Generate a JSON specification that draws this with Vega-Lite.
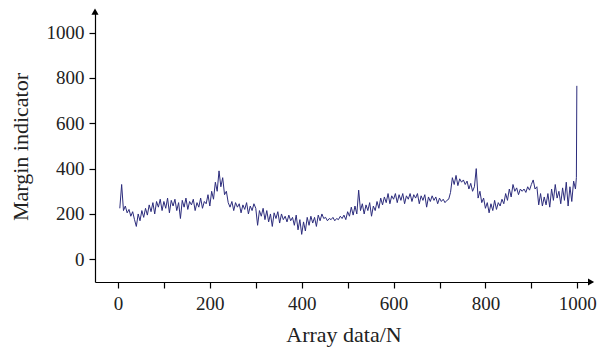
{
  "$schema": "https://vega.github.io/schema/vega-lite/v6.json",
  "width": 497,
  "height": 271,
  "autosize": {"type": "none"},
  "padding": {"left": 95, "top": 11, "right": 7, "bottom": 65},
  "config": {
    "view": {"stroke": null},
    "font": "Liberation Serif",
    "axis": {
      "domainColor": "#000000", "domainWidth": 1.2, "tickColor": "#000000", "tickWidth": 1.2, "tickSize": 6,
      "labelFont": "Liberation Serif", "labelFontSize": 19, "labelColor": "#222222",
      "titleFont": "Liberation Serif", "titleFontSize": 22, "titleFontWeight": "normal", "titleColor": "#222222",
      "grid": false
    }
  },
  "datasets": {
    "series": [
      {"n":4,"v":225},{"n":8,"v":330},{"n":12,"v":215},{"n":16,"v":235},{"n":20,"v":205},{"n":24,"v":220},{"n":28,"v":190},{"n":32,"v":210},{"n":36,"v":175},{"n":40,"v":145},{"n":44,"v":200},{"n":48,"v":170},{"n":52,"v":215},{"n":56,"v":185},{"n":60,"v":225},
      {"n":64,"v":195},{"n":68,"v":240},{"n":72,"v":210},{"n":76,"v":250},{"n":80,"v":200},{"n":84,"v":255},{"n":88,"v":230},{"n":92,"v":265},{"n":96,"v":215},{"n":100,"v":255},{"n":104,"v":225},{"n":108,"v":270},{"n":112,"v":205},{"n":116,"v":260},{"n":120,"v":235},{"n":124,"v":265},{"n":128,"v":215},{"n":132,"v":250},{"n":136,"v":180},{"n":140,"v":260},{"n":144,"v":230},{"n":148,"v":270},{"n":152,"v":220},{"n":156,"v":255},{"n":160,"v":240},{"n":164,"v":265},{"n":168,"v":215},{"n":172,"v":250},{"n":176,"v":230},{"n":180,"v":270},{"n":184,"v":225},{"n":188,"v":255},{"n":192,"v":245},{"n":196,"v":285},{"n":200,"v":235},
      {"n":204,"v":300},{"n":208,"v":265},{"n":212,"v":340},{"n":216,"v":300},{"n":220,"v":390},{"n":224,"v":320},{"n":228,"v":360},{"n":232,"v":285},{"n":236,"v":300},{"n":240,"v":250},{"n":244,"v":230},{"n":248,"v":255},{"n":252,"v":215},{"n":256,"v":250},{"n":260,"v":230},{"n":264,"v":245},{"n":268,"v":205},{"n":272,"v":240},{"n":276,"v":220},{"n":280,"v":250},{"n":284,"v":200},{"n":288,"v":235},{"n":292,"v":215},{"n":296,"v":245},{"n":300,"v":225},
      {"n":304,"v":150},{"n":308,"v":215},{"n":312,"v":190},{"n":316,"v":225},{"n":320,"v":175},{"n":324,"v":215},{"n":328,"v":165},{"n":332,"v":200},{"n":336,"v":145},{"n":340,"v":205},{"n":344,"v":180},{"n":348,"v":210},{"n":352,"v":160},{"n":356,"v":200},{"n":360,"v":175},{"n":364,"v":190},{"n":368,"v":165},{"n":372,"v":195},{"n":376,"v":170},{"n":380,"v":185},{"n":384,"v":150},{"n":388,"v":195},{"n":392,"v":130},{"n":396,"v":175},{"n":400,"v":110},
      {"n":404,"v":165},{"n":408,"v":125},{"n":412,"v":185},{"n":416,"v":150},{"n":420,"v":190},{"n":424,"v":160},{"n":428,"v":185},{"n":432,"v":145},{"n":436,"v":195},{"n":440,"v":170},{"n":444,"v":200},{"n":448,"v":180},{"n":452,"v":185},{"n":456,"v":170},{"n":460,"v":180},{"n":464,"v":175},{"n":468,"v":185},{"n":472,"v":170},{"n":476,"v":180},{"n":480,"v":175},{"n":484,"v":190},{"n":488,"v":180},{"n":492,"v":195},{"n":496,"v":175},{"n":500,"v":210},
      {"n":504,"v":190},{"n":508,"v":230},{"n":512,"v":195},{"n":516,"v":235},{"n":520,"v":200},{"n":524,"v":305},{"n":528,"v":215},{"n":532,"v":245},{"n":536,"v":200},{"n":540,"v":240},{"n":544,"v":215},{"n":548,"v":250},{"n":552,"v":190},{"n":556,"v":235},{"n":560,"v":215},{"n":564,"v":255},{"n":568,"v":225},{"n":572,"v":270},{"n":576,"v":240},{"n":580,"v":275},{"n":584,"v":250},{"n":588,"v":290},{"n":592,"v":245},{"n":596,"v":280},{"n":600,"v":265},
      {"n":604,"v":290},{"n":608,"v":250},{"n":612,"v":285},{"n":616,"v":260},{"n":620,"v":290},{"n":624,"v":245},{"n":628,"v":280},{"n":632,"v":265},{"n":636,"v":290},{"n":640,"v":255},{"n":644,"v":285},{"n":648,"v":270},{"n":652,"v":290},{"n":656,"v":245},{"n":660,"v":280},{"n":664,"v":260},{"n":668,"v":285},{"n":672,"v":230},{"n":676,"v":275},{"n":680,"v":255},{"n":684,"v":280},{"n":688,"v":260},{"n":692,"v":275},{"n":696,"v":245},{"n":700,"v":270},
      {"n":704,"v":255},{"n":708,"v":265},{"n":712,"v":250},{"n":716,"v":260},{"n":720,"v":265},{"n":724,"v":295},{"n":728,"v":360},{"n":732,"v":330},{"n":736,"v":370},{"n":740,"v":325},{"n":744,"v":355},{"n":748,"v":340},{"n":752,"v":350},{"n":756,"v":330},{"n":760,"v":345},{"n":764,"v":310},{"n":768,"v":335},{"n":772,"v":300},{"n":776,"v":320},{"n":780,"v":400},{"n":784,"v":270},{"n":788,"v":300},{"n":792,"v":250},{"n":796,"v":270},{"n":800,"v":225},
      {"n":804,"v":250},{"n":808,"v":205},{"n":812,"v":245},{"n":816,"v":215},{"n":820,"v":260},{"n":824,"v":220},{"n":828,"v":250},{"n":832,"v":235},{"n":836,"v":265},{"n":840,"v":245},{"n":844,"v":290},{"n":848,"v":260},{"n":852,"v":310},{"n":856,"v":275},{"n":860,"v":330},{"n":864,"v":300},{"n":868,"v":315},{"n":872,"v":285},{"n":876,"v":310},{"n":880,"v":300},{"n":884,"v":310},{"n":888,"v":295},{"n":892,"v":320},{"n":896,"v":305},{"n":900,"v":330},
      {"n":904,"v":350},{"n":908,"v":310},{"n":912,"v":320},{"n":916,"v":240},{"n":920,"v":290},{"n":924,"v":235},{"n":928,"v":275},{"n":932,"v":240},{"n":936,"v":290},{"n":940,"v":230},{"n":944,"v":310},{"n":948,"v":260},{"n":952,"v":330},{"n":956,"v":270},{"n":960,"v":300},{"n":964,"v":245},{"n":968,"v":315},{"n":972,"v":260},{"n":976,"v":340},{"n":980,"v":235},{"n":984,"v":320},{"n":988,"v":255},{"n":992,"v":345},{"n":996,"v":310},{"n":998,"v":360},{"n":999,"v":765}
    ],
    "arrowUp": [{"n": -50, "v": 1092}],
    "arrowRight": [{"n": 1030, "v": -100}]
  },
  "layer": [
    {
      "data": {"name": "series"},
      "mark": {"type": "line", "color": "#2c2c7c", "strokeWidth": 1, "clip": false},
      "encoding": {
        "x": {"field": "n", "type": "quantitative",
          "scale": {"domain": [-50, 1032], "nice": false, "zero": false},
          "axis": {"title": "Array data/N", "values": [0,100,200,300,400,500,600,700,800,900,1000],
            "labelExpr": "datum.value % 200 == 0 ? datum.label : ''", "format": "d",
            "labelPadding": 6, "titlePadding": 11, "labelFlush": false}},
        "y": {"field": "v", "type": "quantitative",
          "scale": {"domain": [-100, 1095], "nice": false, "zero": false},
          "axis": {"title": "Margin indicator", "values": [0,100,200,300,400,500,600,700,800,900,1000],
            "labelExpr": "datum.value % 200 == 0 ? datum.label : ''", "format": "d",
            "labelPadding": 5, "titlePadding": 14, "labelFlush": false}}
      }
    },
    {
      "data": {"name": "arrowUp"},
      "mark": {"type": "point", "shape": "triangle-up", "filled": true, "color": "#000000", "size": 50, "opacity": 1},
      "encoding": {
        "x": {"field": "n", "type": "quantitative"},
        "y": {"field": "v", "type": "quantitative"}
      }
    },
    {
      "data": {"name": "arrowRight"},
      "mark": {"type": "point", "shape": "triangle-right", "filled": true, "color": "#000000", "size": 50, "opacity": 1},
      "encoding": {
        "x": {"field": "n", "type": "quantitative"},
        "y": {"field": "v", "type": "quantitative"}
      }
    }
  ]
}
